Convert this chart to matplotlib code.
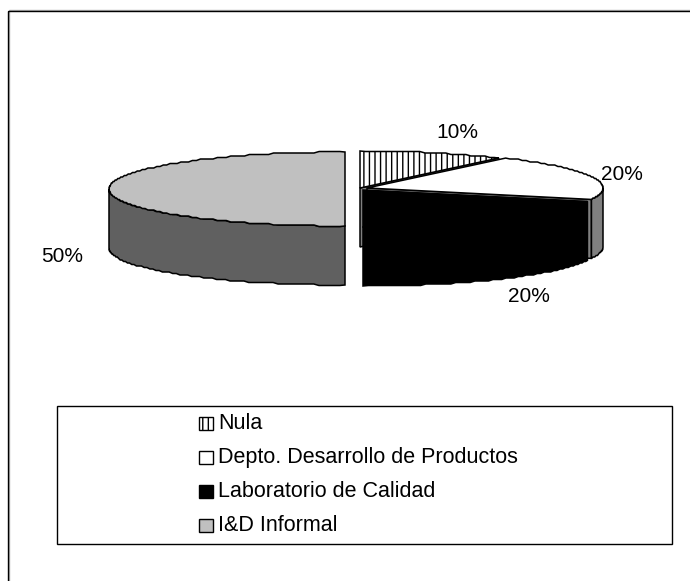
import numpy as np
import matplotlib
matplotlib.use('Agg')
import matplotlib.pyplot as plt
from matplotlib.patches import Polygon, Rectangle

plt.rcParams['font.family'] = ['Liberation Sans', 'DejaVu Sans']
plt.rcParams['hatch.linewidth'] = 1.0

names = ['Nula', 'Depto. Desarrollo de Productos', 'Laboratorio de Calidad', 'I&D Informal']
values = [10, 20, 20, 50]
labels = ['10%', '20%', '20%', '50%']

top_colors = ['white', 'white', 'black', '#c0c0c0']
side_colors = ['#808080', '#808080', 'black', '#606060']
hatches = ['|||', None, None, None]

# pie geometry, in pixels
rx, ry, depth = 236, 37, 59
centers = [(360, 188), (367, 188), (363, 190), (345, 189)]
label_pos = [(457.5, 133), (621.5, 174), (529, 296), (62.5, 256)]
legend_base = [429, 463, 497, 531]


def arc(cx, cy, a0, a1):
    # angles are clockwise from the top of the pie, in degrees
    # the rim is snapped to a coarse grid so it keeps a stepped edge
    n = max(int((a1 - a0) * 0.8), 2)
    t = np.radians(np.linspace(a0, a1, n))
    pts = np.column_stack([cx + rx * np.sin(t), cy - ry * np.cos(t)])
    pts[1:-1, 1] = np.round(pts[1:-1, 1] / 1.5) * 1.5
    return pts


def draw_wedge(ax, center, a0, a1, top, side, hatch):
    cx, cy = center
    pts = arc(cx, cy, a0, a1)
    down = np.array([0, depth])
    # cut face on the closing edge, visible while it still faces the front
    if a1 < 180:
        p = pts[-1]
        ax.add_patch(Polygon([(cx, cy), (cx, cy + depth), p + down, p],
                             fc=side, ec='black', lw=1.1, zorder=1))
    # outer wall, only the part of the rim facing the viewer
    lo, hi = max(a0, 90), min(a1, 270)
    if lo < hi:
        rim = arc(cx, cy, lo, hi)
        wall = np.vstack([rim, rim[::-1] + down])
        ax.add_patch(Polygon(wall, fc=side, ec='black', lw=1.1, zorder=2))
    ax.add_patch(Polygon(np.vstack([[cx, cy], pts]), fc=top, ec='black', lw=1.1,
                         hatch=hatch, zorder=3))


fig = plt.figure(figsize=(6.9, 5.81), dpi=100)
ax = fig.add_axes([0, 0, 1, 1])
ax.set_xlim(0, 690)
ax.set_ylim(581, 0)
ax.axis('off')

# outer frame runs off the right and bottom of the page
ax.add_patch(Rectangle((9, 9.5), 700, 600, fc='none', ec='#b0b0b0', lw=1.0, zorder=0))
ax.add_patch(Rectangle((8, 10.5), 700, 600, fc='none', ec='black', lw=1.0, zorder=0))

# back to front, the black slice has to sit over the others
order = [0, 1, 3, 2]
edges = np.cumsum([0] + values) / sum(values) * 360
for i in order:
    draw_wedge(ax, centers[i], edges[i], edges[i + 1], top_colors[i], side_colors[i], hatches[i])
    ax.text(label_pos[i][0], label_pos[i][1], labels[i], fontsize=15, ha='center', va='center',
            color='black', zorder=5)

# legend box
ax.add_patch(Rectangle((57, 406), 615, 138, fc='white', ec='black', lw=1.0, zorder=1))
for name, y, top, hatch in zip(names, legend_base, top_colors, hatches):
    ax.add_patch(Rectangle((198.5, y - 12), 14, 13, fc=top, ec='black', lw=1.0, hatch=hatch, zorder=2))
    ax.text(218, y, name, fontsize=15.5, ha='left', va='baseline', color='black', zorder=3)

fig.savefig('out.png', dpi=100)
